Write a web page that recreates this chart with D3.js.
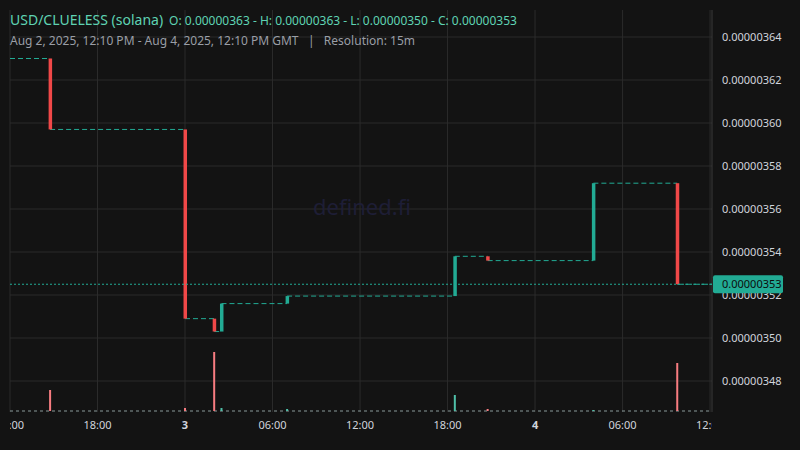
<!DOCTYPE html><html><head><meta charset="utf-8">
<script src="https://cdn.jsdelivr.net/npm/d3@7"></script>
<style>body{margin:0;background:#131313}svg{display:block}text{font-family:"Noto Sans",sans-serif}</style></head><body>
<svg id="c" width="800" height="450"></svg>
<script>
const startTime = "2025-08-02T12:00Z", endTime = "2025-08-04T12:08Z";
const startPrice = 363.0;
const changeTimes = ["2025-08-02T14:45Z","2025-08-03T00:00Z","2025-08-03T02:00Z","2025-08-03T02:30Z","2025-08-03T07:00Z","2025-08-03T18:30Z","2025-08-03T20:45Z","2025-08-04T04:00Z","2025-08-04T09:45Z"];
const changePrices = [359.7, 350.9, 350.3, 351.6, 351.95, 353.8, 353.6, 357.2, 352.5];
const volumes = [21, 3, 59, 3, 2, 16, 2, 1, 48];
const priceTicks = [348,350,352,354,356,358,360,362,364];
const timeTicks = ["2025-08-02T12:00Z","2025-08-02T18:00Z","2025-08-03T00:00Z","2025-08-03T06:00Z","2025-08-03T12:00Z","2025-08-03T18:00Z","2025-08-04T00:00Z","2025-08-04T06:00Z","2025-08-04T12:00Z"];
const timeLabels = ["12:00","18:00","3","06:00","12:00","18:00","4","06:00","12:00"];
const lastLabel = "0.00000353";

const svg = d3.select("#c");
const x = d3.scaleUtc().domain([new Date(startTime), new Date(endTime)]).range([10, 712]);
const y = d3.scaleLinear().domain([348, 364]).range([381, 37]);
const v = d3.scaleLinear().domain([0, 60]).range([411, 351]);
const UP="#22ab94", DN="#f23645", grid="#2b2b2b";
const fmt = p => (p/1e8).toFixed(8);

svg.append("rect").attr("width",800).attr("height",450).attr("fill","#131313");
const g = svg.append("g");
priceTicks.forEach(p=>g.append("line").attr("x1",10).attr("x2",712).attr("y1",y(p)).attr("y2",y(p)).attr("stroke",grid));
timeTicks.forEach(t=>g.append("line").attr("x1",x(new Date(t))).attr("x2",x(new Date(t))).attr("y1",10).attr("y2",412).attr("stroke",grid));
svg.append("text").attr("x",362).attr("y",215).attr("text-anchor","middle").attr("font-size",22).attr("fill","#1e1e36").text("defined.fi");
svg.append("line").attr("x1",712).attr("x2",712).attr("y1",10).attr("y2",412).attr("stroke","#3a3a3a");
svg.append("line").attr("x1",10).attr("x2",712).attr("y1",411).attr("y2",411).attr("stroke","#8a9a9a").attr("stroke-dasharray","3,3");

// flat segments & candles
let prev = startPrice, prevT = new Date(startTime);
const segs=[];
changeTimes.forEach((t,i)=>{segs.push({t0:prevT,t1:new Date(t),p:prev});prev=changePrices[i];prevT=new Date(t);});
segs.push({t0:prevT,t1:new Date(endTime),p:prev});
svg.selectAll(".flat").data(segs).join("line").attr("x1",d=>x(d.t0)).attr("x2",d=>x(d.t1))
 .attr("y1",d=>y(d.p)).attr("y2",d=>y(d.p)).attr("stroke",UP).attr("stroke-dasharray","5,3");
const cd = changeTimes.map((t,i)=>({t:new Date(t),o:i?changePrices[i-1]:startPrice,c:changePrices[i],v:volumes[i]}));
svg.selectAll(".vol").data(cd).join("rect").attr("x",d=>x(d.t)-1).attr("width",2)
 .attr("y",d=>v(d.v)).attr("height",d=>411-v(d.v)).attr("fill",d=>d.c>=d.o?"#4fbfa8":"#f77c80");
svg.selectAll(".cd").data(cd).join("rect").attr("x",d=>x(d.t)-1.5).attr("width",3.5)
 .attr("y",d=>y(Math.max(d.o,d.c))).attr("height",d=>Math.max(1,Math.abs(y(d.o)-y(d.c))))
 .attr("fill",d=>d.c>=d.o?UP:"#f04848");

// last price line
const lp = changePrices[changePrices.length-1];
svg.append("line").attr("x1",10).attr("x2",712).attr("y1",y(lp)).attr("y2",y(lp)).attr("stroke",UP).attr("stroke-dasharray","2,2");

// axes labels
priceTicks.forEach(p=>svg.append("text").attr("x",722).attr("y",y(p)+4).attr("font-size",11).attr("fill","#d1d4dc").text(fmt(p)));
svg.append("rect").attr("x",713).attr("y",y(lp)-9).attr("width",70).attr("height",18).attr("rx",2).attr("fill",UP);
svg.append("text").attr("x",722).attr("y",y(lp)+4).attr("font-size",11).attr("fill","#0d0d0d").text(lastLabel);
timeTicks.forEach((t,i)=>svg.append("text").attr("x",x(new Date(t))).attr("y",429).attr("text-anchor","middle")
 .attr("font-size",11).attr("font-weight",timeLabels[i].length<3?"bold":"normal").attr("fill","#d1d4dc").text(timeLabels[i]));
svg.append("rect").attr("x",0).attr("y",413).attr("width",10).attr("height",37).attr("fill","#131313");
svg.append("rect").attr("x",712).attr("y",413).attr("width",88).attr("height",37).attr("fill","#131313");

// header
const h = svg.append("text").attr("x",10).attr("y",25).attr("fill","#5fd3b3");
h.append("tspan").attr("font-size",14).text("USD/CLUELESS (solana)");
h.append("tspan").attr("font-size",12).attr("dx",6).text("O: 0.00000363 - H: 0.00000363 - L: 0.00000350 - C: 0.00000353");
svg.append("text").attr("x",10).attr("y",45).attr("font-size",12).attr("fill","#9a9ea6")
 .text("Aug 2, 2025, 12:10 PM - Aug 4, 2025, 12:10 PM GMT   |   Resolution: 15m").attr("xml:space","preserve");
</script></body></html>
